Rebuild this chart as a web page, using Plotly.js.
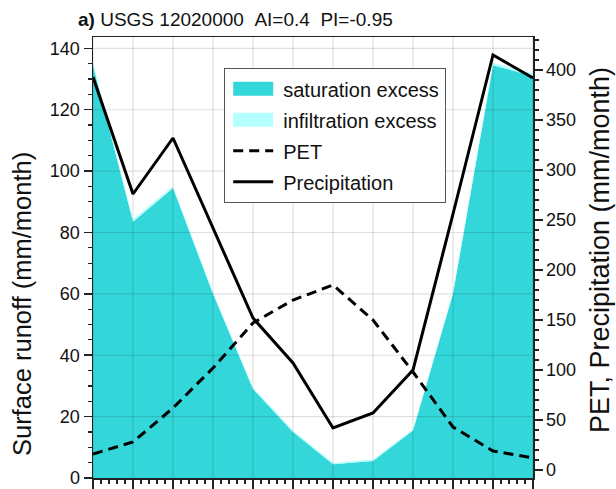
<!DOCTYPE html>
<html>
<head>
<meta charset="utf-8">
<script src="https://cdn.plot.ly/plotly-3.0.1.min.js"></script>
<style>
  html, body { margin: 0; padding: 0; background: #fff; }
  #chart { width: 616px; height: 489px; }
</style>
</head>
<body>
<div id="chart"></div>
<script>
// Monthly climatology, months 1..12
const months = [1, 2, 3, 4, 5, 6, 7, 8, 9, 10, 11, 12];

// Surface runoff components (mm/month), left axis
const saturationExcess = [134.5, 83.5, 94.5, 60, 29, 15, 4.5, 5.5, 15.5, 60, 134.5, 131];
const infiltrationExcess = [1, 0.8, 0.6, 0.5, 0.5, 0.5, 0.5, 0.5, 0.5, 0.6, 0.8, 0.8];

// Forcing (mm/month), right axis
const pet = [16, 28, 62, 102, 147, 170, 185, 150, 98, 43, 19, 12];
const precipitation = [393, 276, 332, 242, 152, 107, 42, 57, 100, 256, 415, 392];

// Grid positions follow the left axis major ticks
const leftGrid = [20, 40, 60, 80, 100, 120, 140];

const FONT = 'Liberation Sans, Arial, Helvetica, sans-serif';
const INK = '#222';
const SAT = '#33D6D9';
const INF = '#B4FFFF';

const traces = [
  {
    x: months, y: saturationExcess, name: 'saturation excess',
    type: 'scatter', mode: 'lines', stackgroup: 'runoff',
    fillcolor: SAT, line: { width: 0, color: SAT },
    legendgroup: 'g1', hoverinfo: 'skip'
  },
  {
    x: months, y: infiltrationExcess, name: 'infiltration excess',
    type: 'scatter', mode: 'lines', stackgroup: 'runoff',
    fillcolor: INF, line: { width: 0, color: INF },
    legendgroup: 'g2', hoverinfo: 'skip'
  },
  {
    x: months, y: pet, yaxis: 'y2', name: 'PET',
    type: 'scatter', mode: 'lines',
    line: { color: '#000', width: 3, dash: '10px,6px' },
    legendgroup: 'g3', hoverinfo: 'skip'
  },
  {
    x: months, y: precipitation, yaxis: 'y2', name: 'Precipitation',
    type: 'scatter', mode: 'lines',
    line: { color: '#000', width: 3 },
    legendgroup: 'g4', hoverinfo: 'skip'
  }
];

// Light grid drawn over the filled areas
const gridColor = 'rgba(0,0,0,0.12)';
const shapes = [];
months.forEach(m => shapes.push({
  type: 'line', layer: 'above', xref: 'x', yref: 'paper',
  x0: m, x1: m, y0: 0, y1: 1, line: { color: gridColor, width: 1.2 }
}));
leftGrid.forEach(v => shapes.push({
  type: 'line', layer: 'above', xref: 'paper', yref: 'y',
  x0: 0, x1: 1, y0: v, y1: v, line: { color: gridColor, width: 1.2 }
}));

const tickStyle = {
  ticks: 'outside', ticklen: 8, tickwidth: 1.5, tickcolor: INK,
  showline: true, linecolor: INK, linewidth: 1.5,
  showgrid: false, zeroline: false,
  tickfont: { family: FONT, size: 18, color: '#111' }
};

const layout = {
  width: 616, height: 489,
  margin: { l: 93, r: 83, t: 37, b: 11, pad: 0 },
  paper_bgcolor: '#fff', plot_bgcolor: '#fff',
  font: { family: FONT, color: '#111' },
  showlegend: true,
  title: {
    text: '<b>a)</b> USGS 12020000\u00A0\u00A0AI=0.4\u00A0\u00A0PI=-0.95',
    font: { family: FONT, size: 19, color: '#111' },
    xref: 'container', yref: 'container',
    x: 78 / 616, xanchor: 'left',
    y: 1 - 19 / 489, yanchor: 'middle'
  },
  xaxis: Object.assign({}, tickStyle, {
    range: [1, 12], tick0: 1, dtick: 1, ticklen: 9,
    showticklabels: false, mirror: true,
    minor: { tick0: 1, dtick: 0.2, ticks: 'outside', ticklen: 4, tickwidth: 1.2, tickcolor: INK, showgrid: false }
  }),
  yaxis: Object.assign({}, tickStyle, {
    range: [0, 143.7], tick0: 0, dtick: 20,
    minor: { tick0: 0, dtick: 5, ticks: 'outside', ticklen: 4, tickwidth: 1.2, tickcolor: INK, showgrid: false }
  }),
  yaxis2: Object.assign({}, tickStyle, {
    overlaying: 'y', side: 'right',
    range: [-8, 433], tick0: 0, dtick: 50,
    minor: { tick0: 0, dtick: 10, ticks: 'outside', ticklen: 4, tickwidth: 1.2, tickcolor: INK, showgrid: false }
  }),
  legend: {
    x: (224 - 93) / 440, y: (478 - 68) / 441,
    xanchor: 'left', yanchor: 'top',
    bgcolor: '#fff', bordercolor: '#555', borderwidth: 1.2,
    font: { family: FONT, size: 20, color: '#111' },
    traceorder: 'grouped', tracegroupgap: 2,
    itemwidth: 48
  },
  shapes: shapes,
  annotations: [
    {
      text: 'Surface runoff (mm/month)', textangle: -90,
      xref: 'paper', yref: 'paper', x: (22 - 93) / 440, y: (478 - 304) / 441,
      xanchor: 'center', yanchor: 'middle', showarrow: false,
      font: { family: FONT, size: 25.5, color: '#111' }
    },
    {
      text: 'PET, Precipitation (mm/month)', textangle: -90,
      xref: 'paper', yref: 'paper', x: (600 - 93) / 440, y: (478 - 250) / 441,
      xanchor: 'center', yanchor: 'middle', showarrow: false,
      font: { family: FONT, size: 27, color: '#111' }
    }
  ]
};

Plotly.newPlot('chart', traces, layout, { displayModeBar: false, staticPlot: true }).then(gd => {
  // Wider rectangular swatches, set a little in from the legend border
  gd.querySelectorAll('.legendfill path').forEach(p => p.setAttribute('d', 'M8,-7h40v14h-40z'));
  gd.querySelectorAll('.legendlines path').forEach(p => p.setAttribute('d', 'M8,0h40'));
});
</script>
</body>
</html>
